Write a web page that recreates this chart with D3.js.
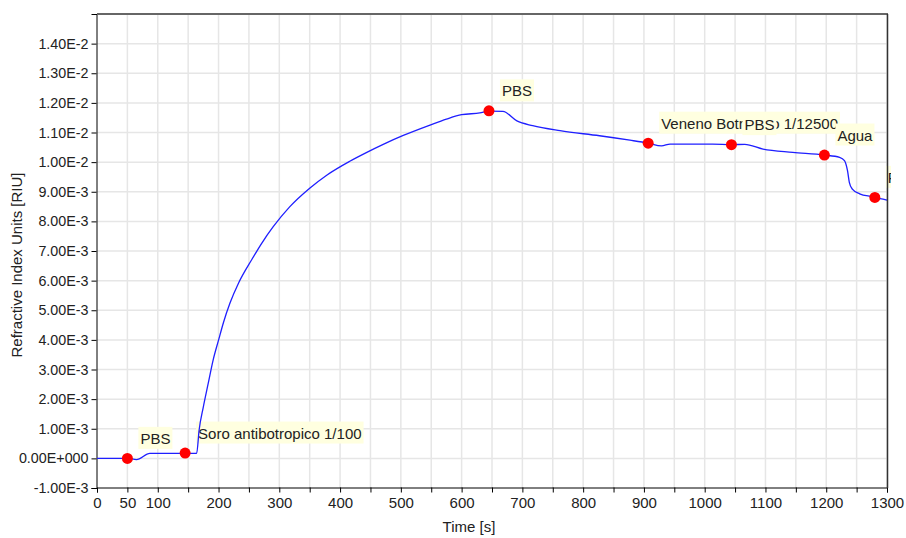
<!DOCTYPE html>
<html>
<head>
<meta charset="utf-8">
<script src="https://cdn.jsdelivr.net/npm/d3@7"></script>
<style>
	body { margin: 0; background: #fff; }
	svg text { font-family: "Liberation Sans", Arial, sans-serif; fill: #222; }
</style>
</head>
<body>
<div id="chart"></div>
<script>
// sensorgram, values
var times = [0, 50, 65, 87, 145, 164, 168, 175, 183, 191, 200, 208, 219, 233, 255, 271, 290, 317, 350, 378,
	416, 444, 471, 504, 548, 575, 600, 630, 645, 668, 691, 717, 762, 827, 877, 907, 929, 943, 1013, 1044,
	1066, 1096, 1145, 1197, 1222, 1230, 1235, 1238, 1243, 1255, 1276, 1280, 1300];
var riu = [0, 0, -0.00004, 0.00017, 0.00017, 0.00017, 0.00095, 0.00174, 0.00253, 0.00331, 0.00399, 0.00458,
	0.00525, 0.00592, 0.00672, 0.00726, 0.00782, 0.00849, 0.00912, 0.00956, 0.01003, 0.01033, 0.01060, 0.01090,
	0.01125, 0.01145, 0.01160, 0.01166, 0.01172, 0.01171, 0.01139, 0.01123, 0.01106, 0.01089, 0.01074, 0.01064,
	0.01055, 0.01061, 0.01061, 0.01059, 0.01060, 0.01044, 0.01033, 0.01024, 0.01016, 0.01005, 0.00971, 0.00932,
	0.00909, 0.00893, 0.00883, 0.00881, 0.00872];

var eventTimes = [50, 145, 645, 907, 1044, 1197, 1280];
var eventValues = [0, 0.00018, 0.01173, 0.01064, 0.01059, 0.01024, 0.00881];
var eventLabels = ["PBS", "Soro antibotropico 1/100", "PBS", "Veneno Botropico 1/12500", "PBS", "Agua", "PBS"];

var xTicks = d3.range(0, 1301, 50);
var xTickLabels = ["0", "50", "100", "", "200", "", "300", "", "400", "", "500", "", "600", "", "700", "",
	"800", "", "900", "", "1000", "", "1100", "", "1200", "", "1300"];
var yTicks = [-0.001, 0, 0.001, 0.002, 0.003, 0.004, 0.005, 0.006, 0.007, 0.008, 0.009, 0.010, 0.011, 0.012, 0.013, 0.014];
var yTickLabels = ["-1.00E-3", "0.00E+000", "1.00E-3", "2.00E-3", "3.00E-3", "4.00E-3", "5.00E-3", "6.00E-3",
	"7.00E-3", "8.00E-3", "9.00E-3", "1.00E-2", "1.10E-2", "1.20E-2", "1.30E-2", "1.40E-2"];

var width = 906, height = 538;
var plotL = 97, plotR = 887, plotT = 14, plotB = 488;

var svg = d3.select("#chart").append("svg")
	.attr("width", width)
	.attr("height", height);

var x = d3.scaleLinear().domain([0, 1300]).range([plotL, plotR]);
var y = d3.scaleLinear().domain([-0.001, 0.015]).range([plotB, plotT]);

// grid
svg.append("g").selectAll("line")
	.data(xTicks.slice(1))
	.enter().append("line")
	.attr("x1", function (d) { return x(d); })
	.attr("x2", function (d) { return x(d); })
	.attr("y1", plotT).attr("y2", plotB)
	.attr("stroke", "#e6e6e6").attr("stroke-width", 1.5);
svg.append("g").selectAll("line")
	.data(yTicks.slice(1))
	.enter().append("line")
	.attr("x1", plotL).attr("x2", plotR)
	.attr("y1", function (d) { return y(d); })
	.attr("y2", function (d) { return y(d); })
	.attr("stroke", "#e6e6e6").attr("stroke-width", 1.5);

// axes
var xAxis = svg.append("g")
	.attr("transform", "translate(0," + (plotB - 0.5) + ")")
	.call(d3.axisBottom(x).tickValues(xTicks).tickSize(5).tickPadding(5)
		.tickFormat(function (d, i) { return xTickLabels[i]; }));
xAxis.selectAll("text").style("font-size", "15px").style("fill", "#222");

var yAxis = svg.append("g")
	.attr("transform", "translate(" + (plotL - 0.5) + ",0)")
	.call(d3.axisLeft(y).tickValues(yTicks).tickSize(5).tickPadding(3)
		.tickFormat(function (d, i) { return yTickLabels[i]; }));
yAxis.selectAll("text").style("font-size", "14.3px").style("fill", "#222");
svg.selectAll(".domain").attr("stroke", "#000");

// frame top
svg.append("line").attr("x1", plotL).attr("x2", plotR + 1).attr("y1", plotT).attr("y2", plotT)
	.attr("stroke", "#666").attr("stroke-width", 2);

// titles
svg.append("text").attr("x", 469).attr("y", 532).attr("text-anchor", "middle")
	.style("font-size", "15px").text("Time [s]");
svg.append("text").attr("transform", "translate(22,265) rotate(-90)").attr("text-anchor", "middle")
	.style("font-size", "15px").text("Refractive Index Units [RIU]");

svg.append("clipPath").attr("id", "plotclip")
	.append("rect").attr("x", plotL).attr("y", plotT).attr("width", plotR - plotL + 4).attr("height", plotB - plotT);

// event labels
var labels = svg.append("g").attr("clip-path", "url(#plotclip)");
eventTimes.forEach(function (t, i) {
	var g = labels.append("g")
		.attr("transform", "translate(" + (x(t) + 11) + "," + (y(eventValues[i]) - 31.5) + ")");
	var txt = g.append("text").attr("x", 2).attr("y", 17).style("font-size", "15px").text(eventLabels[i]);
	var w = txt.node().getComputedTextLength();
	g.insert("rect", "text").attr("width", w + 4).attr("height", 22).attr("fill", "#ffffe0");
});

// curve
var line = d3.line()
	.x(function (d, i) { return x(times[i]); })
	.y(function (d) { return y(d); })
	.curve(d3.curveMonotoneX);
svg.append("path")
	.datum(riu)
	.attr("d", line)
	.attr("fill", "none")
	.attr("stroke", "#1f1fff")
	.attr("stroke-width", 1.3);

// frame right
svg.append("line").attr("x1", plotR + 0.5).attr("x2", plotR + 0.5).attr("y1", plotT).attr("y2", plotB)
	.attr("stroke", "#333").attr("stroke-width", 1.5);

// markers
svg.append("g").selectAll("circle")
	.data(eventTimes)
	.enter().append("circle")
	.attr("cx", function (d) { return x(d); })
	.attr("cy", function (d, i) { return y(eventValues[i]); })
	.attr("r", 5.5)
	.attr("fill", "#ff0000");
</script>
</body>
</html>
